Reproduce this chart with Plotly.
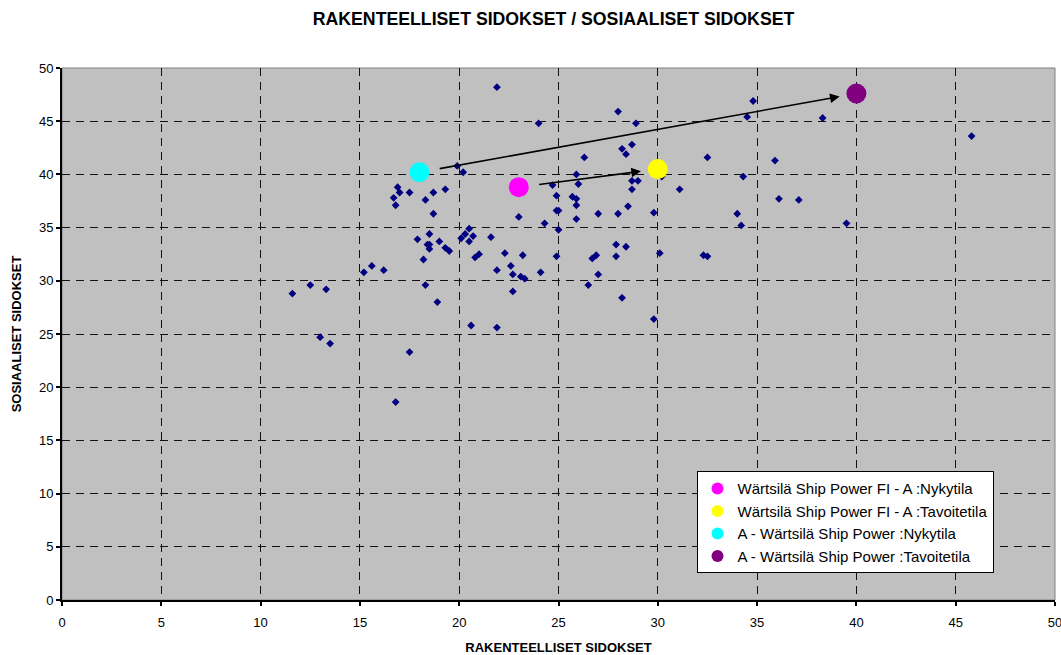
import plotly.graph_objects as go

# Kaikkien vastaajien sijainnit (rakenteelliset, sosiaaliset)
rakenteelliset = [
    21.9, 24.0, 28.0, 28.9, 34.8, 34.5, 38.3, 45.8, 32.5, 35.9,
    34.3, 36.1, 37.1, 34.0, 34.2, 39.5, 32.3, 32.5, 28.2, 28.4,
    28.7, 26.3, 25.9, 24.7, 26.0, 28.7, 29.0, 30.2, 28.7, 31.1,
    24.9, 25.7, 25.9, 25.9, 24.9, 25.0, 28.5, 23.0, 24.3, 25.0,
    25.9, 27.0, 28.0, 29.8, 22.3, 23.2, 24.9, 22.6, 22.7, 23.1,
    23.3, 24.1, 26.7, 26.9, 27.0, 26.5, 27.9, 28.4, 27.9, 30.1,
    22.7, 28.2, 29.8, 19.9, 20.2, 16.9, 17.0, 17.5, 16.7, 16.8,
    18.3, 18.7, 19.3, 18.7, 20.5, 20.3, 20.1, 20.7, 20.5, 21.0,
    20.8, 21.6, 21.9, 17.9, 18.5, 18.4, 18.5, 18.5, 19.0, 19.3,
    19.5, 18.2, 15.6, 15.2, 16.2, 11.6, 12.5, 13.3, 18.3, 18.9,
    13.0, 13.5, 17.5, 16.8, 20.6, 21.9,
]
sosiaaliset = [
    48.2, 44.8, 45.9, 44.8, 46.9, 45.4, 45.3, 43.6, 41.6, 41.3,
    39.8, 37.7, 37.6, 36.3, 35.2, 35.4, 32.4, 32.3, 42.4, 41.9,
    42.8, 41.6, 40.0, 39.0, 39.1, 39.4, 39.4, 39.8, 38.6, 38.6,
    38.0, 37.9, 37.7, 37.1, 36.6, 36.6, 37.0, 36.0, 35.4, 34.8,
    35.8, 36.3, 36.3, 36.4, 32.6, 32.4, 32.3, 31.4, 30.6, 30.4,
    30.2, 30.8, 32.1, 32.4, 30.6, 29.6, 33.4, 33.2, 32.3, 32.6,
    29.0, 28.4, 26.4, 40.8, 40.2, 38.8, 38.3, 38.3, 37.8, 37.1,
    37.6, 38.3, 38.6, 36.3, 34.9, 34.4, 34.0, 34.2, 33.7, 32.5,
    32.2, 34.1, 31.0, 33.9, 34.4, 33.4, 33.4, 33.0, 33.7, 33.1,
    32.8, 32.0, 31.4, 30.8, 31.0, 28.8, 29.6, 29.2, 29.6, 28.0,
    24.7, 24.1, 23.3, 18.6, 25.8, 25.6,
]

# Korostetut tilat
tila_nimet = [
    "Wärtsilä Ship Power FI - A :Nykytila",
    "Wärtsilä Ship Power FI - A :Tavoitetila",
    "A - Wärtsilä Ship Power :Nykytila",
    "A - Wärtsilä Ship Power :Tavoitetila",
]
tila_x = [23.0, 30.0, 18.0, 40.0]
tila_y = [38.8, 40.5, 40.2, 47.6]
tila_varit = ["#FF00FF", "#FFFF00", "#00FFFF", "#800080"]

# Nuolet: nykytila -> tavoitetila
nuolet = [(0, 1), (2, 3)]

x_ticks = list(range(0, 51, 5))
y_ticks = list(range(0, 51, 5))

FONT = "Arial, Liberation Sans, sans-serif"

fig = go.Figure()

fig.add_trace(go.Scatter(
    x=rakenteelliset, y=sosiaaliset, mode="markers",
    marker=dict(symbol="diamond", size=6, color="#000080"),
    showlegend=False, hoverinfo="skip",
))

for nimi, x, y, vari in zip(tila_nimet, tila_x, tila_y, tila_varit):
    fig.add_trace(go.Scatter(
        x=[x], y=[y], mode="markers", name=nimi,
        marker=dict(symbol="circle", size=20, color=vari),
    ))

for alku, loppu in nuolet:
    fig.add_annotation(
        x=tila_x[loppu], y=tila_y[loppu],
        ax=tila_x[alku], ay=tila_y[alku],
        xref="x", yref="y", axref="x", ayref="y",
        showarrow=True, arrowhead=2, arrowsize=1.2, arrowwidth=1.6,
        arrowcolor="black", standoff=17, startstandoff=19, text="",
    )

axis_common = dict(
    showline=True, linecolor="black", linewidth=2,
    ticks="outside", ticklen=4, tickwidth=2, tickcolor="black",
    showgrid=True, gridcolor="#111111", gridwidth=1, griddash="8px,6px",
    zeroline=False, tickfont=dict(family=FONT, size=13, color="black"),
    ticklabeloverflow="allow", automargin=False,
)

fig.update_xaxes(
    range=[0, 50], tickvals=x_ticks, ticktext=[str(v) for v in x_ticks],
    ticklabelstandoff=5,
    title=dict(text="<b>RAKENTEELLISET SIDOKSET</b>",
               font=dict(family=FONT, size=13, color="black"), standoff=18),
    **axis_common,
)
fig.update_yaxes(
    range=[0, 50], tickvals=y_ticks, ticktext=[str(v) for v in y_ticks],
    title=dict(text="<b>SOSIAALISET SIDOKSET</b>",
               font=dict(family=FONT, size=13, color="black"), standoff=14),
    **axis_common,
)

# Piirtoalueen reunus
fig.add_shape(type="rect", xref="paper", yref="paper", x0=0, y0=0, x1=1, y1=1,
              line=dict(color="#808080", width=1), layer="below")

fig.update_layout(
    width=1061, height=655,
    margin=dict(l=62, r=6, t=68, b=55, autoexpand=False),
    paper_bgcolor="white", plot_bgcolor="#C0C0C0",
    font=dict(family=FONT, size=13, color="black"),
    title=dict(text="<b>RAKENTEELLISET SIDOKSET / SOSIAALISET SIDOKSET</b>",
               xref="paper", x=0.495, xanchor="center", y=0.971, yanchor="middle",
               font=dict(family=FONT, size=17.7, color="black")),
    legend=dict(
        x=0.639, y=0.242, xanchor="left", yanchor="top",
        bgcolor="white", bordercolor="black", borderwidth=1,
        font=dict(family=FONT, size=15, color="black"),
        itemsizing="constant", tracegroupgap=0, itemwidth=30,
    ),
)

fig.write_html("out.html")
